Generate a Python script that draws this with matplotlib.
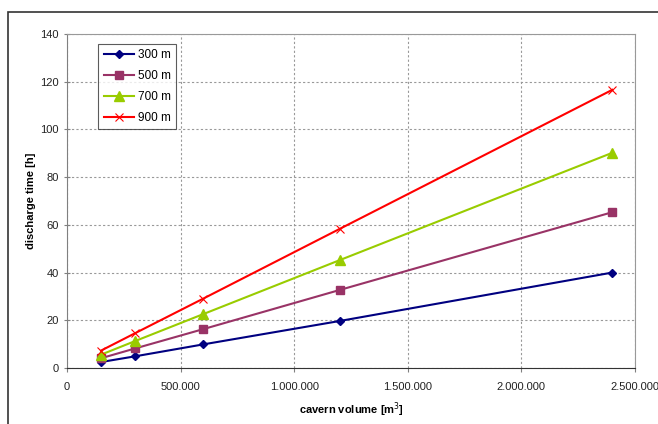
import matplotlib.pyplot as plt
import matplotlib.patches as mpatches
from matplotlib.ticker import FuncFormatter
import numpy as np

volume = [150000, 300000, 600000, 1200000, 2400000]
t_300 = [2.5, 4.9, 9.9, 19.7, 40.0]
t_500 = [4.1, 8.2, 16.3, 32.7, 65.3]
t_700 = [5.6, 11.3, 22.6, 45.2, 90.2]
t_900 = [7.3, 14.6, 29.1, 58.3, 116.6]

plt.rcParams['font.family'] = ['Liberation Sans', 'DejaVu Sans']
plt.rcParams['font.size'] = 8

fig = plt.figure(figsize=(6.58, 4.24), dpi=100)
ax = fig.add_axes([67/658, 56/424, 568/658, 334/424])

# outer chart frame
fig.patches.append(mpatches.Rectangle((8/658, -0.1), 1.1, 0.1 + 1 - 12/424,
                                      transform=fig.transFigure, fill=False,
                                      edgecolor='#333333', lw=1.2))

ax.plot(volume, t_300, color='#000080', marker='D', ms=4.5, lw=1.5, label='300 m')
ax.plot(volume, t_500, color='#993366', marker='s', ms=5.5, lw=1.5, label='500 m')
ax.plot(volume, t_700, color='#99CC00', marker='^', ms=6.5, lw=1.5, label='700 m')
ax.plot(volume, t_900, color='#FF0000', marker='x', ms=5.5, mew=0.8, lw=1.5, label='900 m')

ax.set_xlim(0, 2500000)
ax.set_ylim(0, 140)
ax.set_xticks(np.arange(0, 2500001, 500000))
ax.set_yticks(np.arange(0, 141, 20))
ax.xaxis.set_major_formatter(FuncFormatter(lambda v, p: f'{int(v):,}'.replace(',', '.')))
ax.grid(True, color='#999999', ls=(0, (2, 2)), lw=0.8)
ax.set_axisbelow(True)

for s in ['top', 'right']:
    ax.spines[s].set_color('#999999')
ax.spines['left'].set_color('#808080')
ax.spines['bottom'].set_color('#333333')
ax.tick_params(axis='both', direction='inout', length=5, width=0.8, colors='#808080',
               labelcolor='#222222', labelsize=8)
ax.tick_params(axis='x', direction='out', length=3, pad=7)

ax.set_xlabel('cavern volume [m$^3$]', fontweight='bold', fontsize=8, labelpad=6)
ax.set_ylabel('discharge time [h]', fontweight='bold', fontsize=8, labelpad=3)

leg = ax.legend(loc='upper left', bbox_to_anchor=(0.055, 0.97), frameon=True,
                fancybox=False, edgecolor='#333333', fontsize=8.5, borderpad=0.45,
                handlelength=2.6, labelspacing=0.75, handletextpad=0.3,
                borderaxespad=0)
leg.get_frame().set_linewidth(0.8)

plt.savefig('out.png', dpi=100)
